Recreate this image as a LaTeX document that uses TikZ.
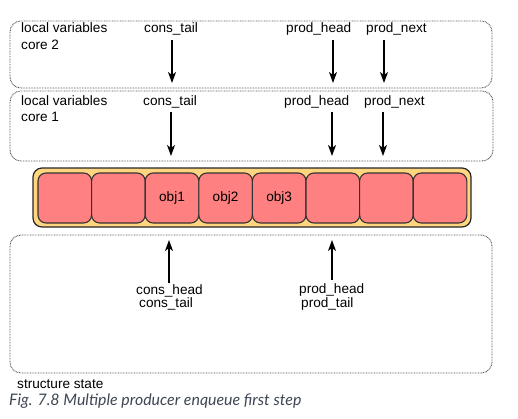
\documentclass[tikz,border=0pt]{standalone}
\usepackage{fontspec}
\setmainfont{Liberation Sans}
\newfontfamily\capfont{Lato}
\usetikzlibrary{arrows.meta}
\definecolor{slotfill}{HTML}{FF8080}
\definecolor{ringfill}{HTML}{FFD580}
\definecolor{framegray}{HTML}{505050}
\definecolor{captioncol}{RGB}{62,70,84}
\begin{document}
\begin{tikzpicture}[x=1pt,y=-1pt,
  lbl/.style={anchor=base west,inner sep=0pt,font=\fontsize{13.6}{16}\selectfont},
  group/.style={draw=framegray,line width=0.9pt,dash pattern=on 0.8pt off 0.8pt,rounded corners=11pt},
  ring/.style={draw=black!85,line width=1.2pt,fill=ringfill,rounded corners=9pt},
  slot/.style={draw=black!80,line width=1.1pt,fill=slotfill,rounded corners=8pt,minimum width=53.6pt,minimum height=50pt,inner sep=0pt,font=\fontsize{13.6}{16}\selectfont},
  ptr/.style={line width=1.3pt,-{Stealth[length=11pt,width=8pt,inset=3pt]}}]
\useasboundingbox (0,0) rectangle (518,418);

% frames
\draw[group] (10,21) rectangle (492,88);
\draw[group] (10,91) rectangle (493,161);
\draw[group] (10,235) rectangle (492,373);

% ring buffer
\draw[ring] (33,168) rectangle (471,227);
\foreach \i/\t in {0/,1/,2/obj1,3/obj2,4/obj3,5/,6/,7/}{
  \node[slot] (s\i) at ({38+26.8+53.6*\i},198) {\t};
}

% core 2 locals
\node[lbl] (l2a) at (21,32) {local variables};
\node[lbl] (l2b) at (21,49) {core 2};
\node[lbl] (c2ct) at (144,32) {cons\_tail};
\node[lbl] (c2ph) at (286,32) {prod\_head};
\node[lbl] (c2pn) at (366,32) {prod\_next};

% core 1 locals
\node[lbl] (l1a) at (21,105) {local variables};
\node[lbl] (l1b) at (21,121) {core 1};
\node[lbl] (c1ct) at (143,105) {cons\_tail};
\node[lbl] (c1ph) at (284,105) {prod\_head};
\node[lbl] (c1pn) at (364,105) {prod\_next};

% shared state
\node[lbl] (sch) at (136,294) {cons\_head};
\node[lbl] (sct) at (139,307) {cons\_tail};
\node[lbl] (sph) at (299,293) {prod\_head};
\node[lbl] (spt) at (301,307) {prod\_tail};
\node[lbl] (sst) at (17,388) {structure state};

\node[anchor=base west,inner sep=0pt,font=\capfont\itshape\fontsize{15.9}{18}\selectfont,text=captioncol] (cap) at (9,405) {Fig. 7.8 Multiple producer enqueue first step};

% arrow endpoints
\coordinate (a1s) at (172,40);  \coordinate (a1e) at (172,83);
\coordinate (a2s) at (333,40);  \coordinate (a2e) at (333,83);
\coordinate (a3s) at (384,40);  \coordinate (a3e) at (384,83);
\coordinate (b1s) at (171,112); \coordinate (b1e) at (171,156);
\coordinate (b2s) at (332,112); \coordinate (b2e) at (332,156);
\coordinate (b3s) at (383,112); \coordinate (b3e) at (383,156);
\coordinate (d1s) at (169,283); \coordinate (d1e) at (169,240);
\coordinate (d2s) at (332,280); \coordinate (d2e) at (332,240);

\draw[ptr] (a1s) -- (a1e);
\draw[ptr] (a2s) -- (a2e);
\draw[ptr] (a3s) -- (a3e);
\draw[ptr] (b1s) -- (b1e);
\draw[ptr] (b2s) -- (b2e);
\draw[ptr] (b3s) -- (b3e);
\draw[ptr] (d1s) -- (d1e);
\draw[ptr] (d2s) -- (d2e);
\end{tikzpicture}
\end{document}
